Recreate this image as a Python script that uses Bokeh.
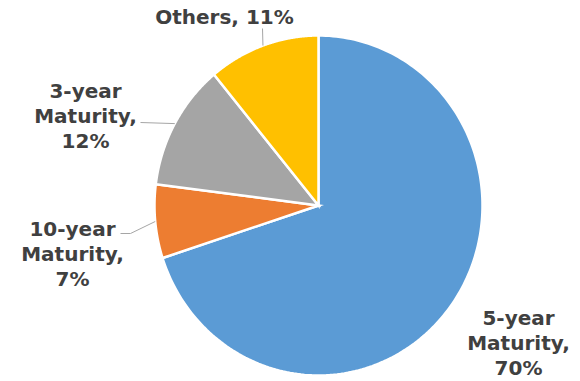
import numpy as np
from bokeh.plotting import figure
from bokeh.models import Range1d
from bokeh.core.properties import value
from bokeh.embed import file_html
from bokeh.resources import INLINE

# ---- data ----
categories = ["5-year Maturity", "10-year Maturity", "3-year Maturity", "Others"]
values = [70, 7, 12, 11]
colors = ["#5B9BD5", "#ED7D31", "#A5A5A5", "#FFC000"]
label_lines = [["5-year", "Maturity,", "70%"],
               ["10-year", "Maturity,", "7%"],
               ["3-year", "Maturity,", "12%"],
               ["Others, 11%"]]

# ---- layout (pixel space, y downward) ----
W, H = 580, 381
CX, CY = 318, 205
RX, RY = 164, 170
label_pos = [(518, 317), (72, 228), (85, 90), (224, 16)]
line_step = 25
leader_ends = [None, [(130, 233), (120, 233)], [(140, 122)], [(262, 28)]]

p = figure(width=W, height=H, x_range=Range1d(0, W), y_range=Range1d(H, 0),
           min_border=0, toolbar_location=None, output_backend="svg",
           outline_line_color=None, background_fill_color="white")
p.axis.visible = False
p.xgrid.visible = False
p.ygrid.visible = False

vals = np.array(values, dtype=float)
fr = np.concatenate([[0], np.cumsum(vals) / vals.sum()])
xs, ys = [], []
mids = []
for i in range(len(vals)):
    a0, a1 = fr[i] * 2 * np.pi, fr[i + 1] * 2 * np.pi
    t = np.linspace(a0, a1, 200)
    x = np.concatenate([[CX], CX + RX * np.sin(t), [CX]])
    y = np.concatenate([[CY], CY - RY * np.cos(t), [CY]])
    xs.append(list(x))
    ys.append(list(y))
    am = (a0 + a1) / 2
    mids.append((CX + RX * np.sin(am), CY - RY * np.cos(am)))

p.patches(xs, ys, fill_color=colors, line_color="white", line_width=2.5,
          line_join="miter")

# leader lines
for i, ends in enumerate(leader_ends):
    if ends is None:
        continue
    lx = [mids[i][0]] + [e[0] for e in ends]
    ly = [mids[i][1]] + [e[1] for e in ends]
    p.line(lx, ly, line_color="#A6A6A6", line_width=1)

# labels
tx, ty, tt = [], [], []
for i, lines in enumerate(label_lines):
    x0, y0 = label_pos[i]
    for k, s in enumerate(lines):
        tx.append(x0)
        ty.append(y0 + k * line_step)
        tt.append(s)
p.text(x=tx, y=ty, text=tt, text_font=value("DejaVu Sans"), text_font_style="bold",
       text_font_size="20px", text_color="#404040", text_align="center",
       text_baseline="middle")

open("out.html", "w").write(file_html(p, INLINE))
